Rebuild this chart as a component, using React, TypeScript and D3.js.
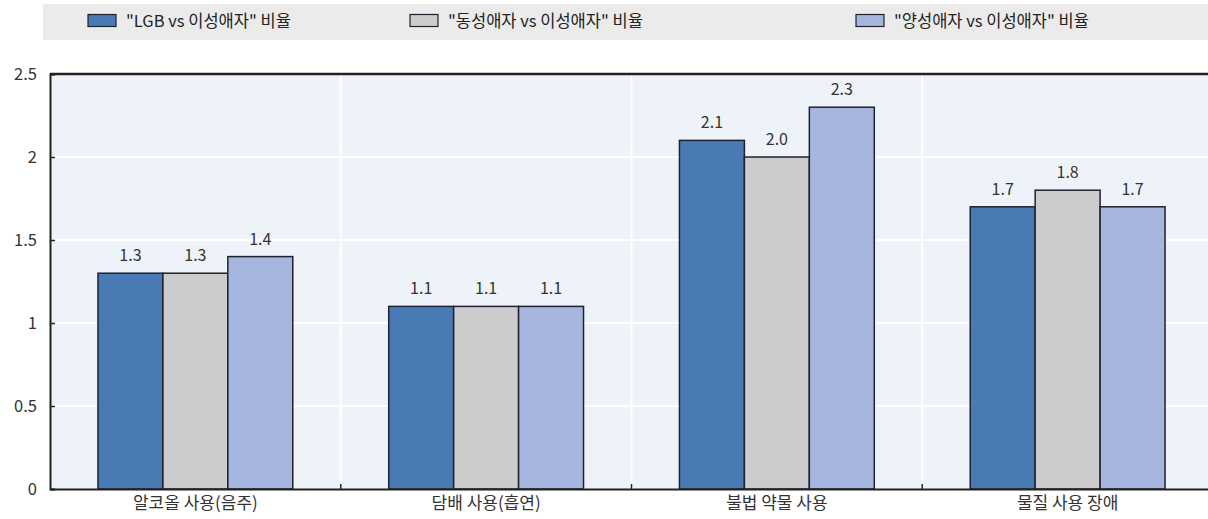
import React, { useEffect, useRef } from 'react';
import * as d3 from 'd3';

const categories = ['알코올 사용(음주)', '담배 사용(흡연)', '불법 약물 사용', '물질 사용 장애'];
const seriesNames = ['"LGB vs 이성애자" 비율', '"동성애자 vs 이성애자" 비율', '"양성애자 vs 이성애자" 비율'];
const lgbValues = [1.3, 1.1, 2.1, 1.7];
const gayValues = [1.3, 1.1, 2.0, 1.8];
const biValues = [1.4, 1.1, 2.3, 1.7];
const yTicks = [0, 0.5, 1, 1.5, 2, 2.5];
const colors = ['#4A7AB4', '#CCCCCC', '#A7B6DE'];

const FONT = '"Noto Sans CJK KR", "Noto Sans", sans-serif';

const App: React.FC = () => {
  const svgRef = useRef<SVGSVGElement>(null);
  const width = 1208;
  const height = 519;
  const margin = { top: 74, right: -5, bottom: 30, left: 50 };

  useEffect(() => {
    if (!svgRef.current) return;
    d3.select(svgRef.current).selectAll('*').remove();

    const svg = d3.select(svgRef.current)
      .attr('width', width)
      .attr('height', height);

    const allSeries = [lgbValues, gayValues, biValues];

    const x0 = d3.scaleBand<string>()
      .domain(categories)
      .range([margin.left, width - margin.right]);

    const groupWidth = x0.bandwidth() * 0.67;
    const x1 = d3.scaleBand<number>()
      .domain([0, 1, 2])
      .range([0, groupWidth]);

    const y = d3.scaleLinear()
      .domain([0, 2.5])
      .range([height - margin.bottom, margin.top]);

    // Legend band
    svg.append('rect')
      .attr('x', 43)
      .attr('y', 4)
      .attr('width', width - 43)
      .attr('height', 36)
      .attr('fill', '#EBEBEB');

    const legendX = [88, 410, 856];
    seriesNames.forEach((name, i) => {
      svg.append('rect')
        .attr('x', legendX[i])
        .attr('y', 14.5)
        .attr('width', 28)
        .attr('height', 12)
        .attr('fill', colors[i])
        .attr('stroke', '#1E2230')
        .attr('stroke-width', 1.2);
      svg.append('text')
        .attr('x', legendX[i] + 38)
        .attr('y', 27)
        .text(name)
        .style('font-family', FONT)
        .style('font-size', '16.5px')
        .style('fill', '#222');
    });

    // Plot background
    svg.append('rect')
      .attr('x', margin.left)
      .attr('y', margin.top)
      .attr('width', width - margin.right - margin.left)
      .attr('height', height - margin.bottom - margin.top)
      .attr('fill', '#EDF3F8');

    // Horizontal gridlines
    svg.append('g')
      .selectAll('line')
      .data(yTicks.slice(1, -1))
      .enter()
      .append('line')
      .attr('x1', margin.left)
      .attr('x2', width)
      .attr('y1', d => y(d))
      .attr('y2', d => y(d))
      .attr('stroke', '#FFFFFF')
      .attr('stroke-width', 2);

    // Vertical separators between categories
    const separators = categories.slice(1).map(c => x0(c) as number);
    svg.append('g')
      .selectAll('line')
      .data(separators)
      .enter()
      .append('line')
      .attr('x1', d => d)
      .attr('x2', d => d)
      .attr('y1', margin.top)
      .attr('y2', height - margin.bottom)
      .attr('stroke', '#FFFFFF')
      .attr('stroke-width', 2);

    // Bars
    categories.forEach((cat, ci) => {
      const gx = (x0(cat) as number) + (x0.bandwidth() - groupWidth) / 2;
      allSeries.forEach((vals, si) => {
        const v = vals[ci];
        svg.append('rect')
          .attr('x', gx + (x1(si) as number))
          .attr('y', y(v))
          .attr('width', x1.bandwidth())
          .attr('height', y(0) - y(v))
          .attr('fill', colors[si])
          .attr('stroke', '#1E2230')
          .attr('stroke-width', 1.5);

        svg.append('text')
          .attr('x', gx + (x1(si) as number) + x1.bandwidth() / 2)
          .attr('y', y(v) - 12)
          .attr('text-anchor', 'middle')
          .text(v.toFixed(1))
          .style('font-family', FONT)
          .style('font-size', '16px')
          .style('fill', '#333');
      });
    });

    // Top frame line
    svg.append('line')
      .attr('x1', margin.left)
      .attr('x2', width)
      .attr('y1', margin.top)
      .attr('y2', margin.top)
      .attr('stroke', '#222')
      .attr('stroke-width', 2.5);

    // Y axis
    const yAxis = svg.append('g')
      .attr('transform', `translate(${margin.left},0)`)
      .call(d3.axisLeft(y).tickValues(yTicks).tickSize(-5).tickPadding(13)
        .tickFormat(d => String(d)));
    yAxis.select('.domain').attr('stroke', '#222').attr('stroke-width', 2);
    yAxis.selectAll('.tick line').attr('stroke', '#222').attr('stroke-width', 1.5);
    yAxis.selectAll('.tick text')
      .style('font-family', FONT)
      .style('font-size', '16.5px')
      .style('fill', '#333');

    // X axis
    const xAxis = svg.append('g')
      .attr('transform', `translate(0,${height - margin.bottom})`)
      .call(d3.axisBottom(x0).tickSize(0).tickPadding(8));
    xAxis.select('.domain').attr('stroke', '#222').attr('stroke-width', 2);
    xAxis.selectAll('.tick text')
      .style('font-family', FONT)
      .style('font-size', '17px')
      .style('fill', '#333');

    // Small upward ticks at category boundaries
    svg.append('g')
      .selectAll('line')
      .data(separators)
      .enter()
      .append('line')
      .attr('x1', d => d)
      .attr('x2', d => d)
      .attr('y1', height - margin.bottom)
      .attr('y2', height - margin.bottom - 5)
      .attr('stroke', '#222')
      .attr('stroke-width', 1.5);
  }, []);

  return (
    <div style={{ position: 'absolute', left: 0, top: 0 }}>
      <svg ref={svgRef} style={{ display: 'block', background: '#fff' }}></svg>
    </div>
  );
};

export default App;
